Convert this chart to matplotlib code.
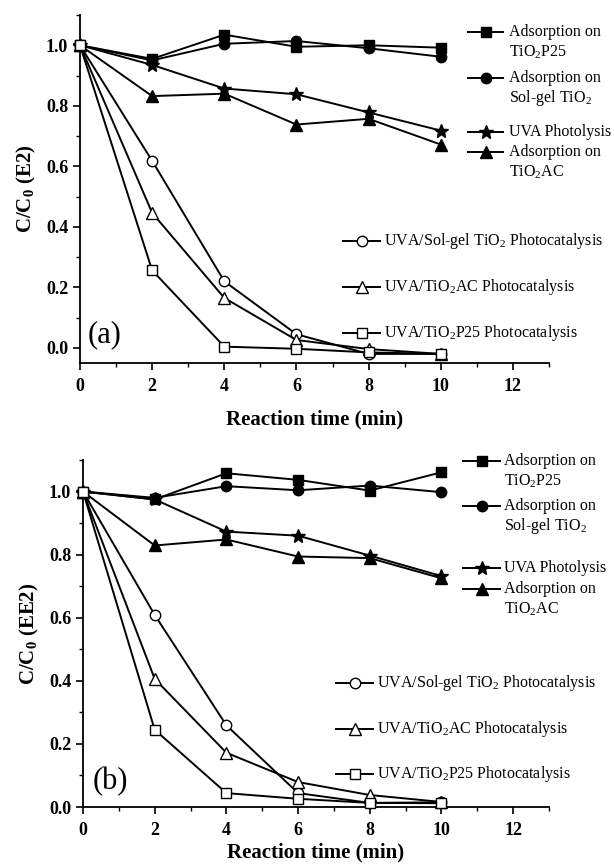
import matplotlib
matplotlib.use("Agg")
import matplotlib.pyplot as plt
from matplotlib.lines import Line2D
from matplotlib.ticker import MultipleLocator

plt.rcParams['font.family'] = 'Liberation Serif'
plt.rcParams['mathtext.fontset'] = 'custom'
plt.rcParams['mathtext.rm'] = 'Liberation Serif'
plt.rcParams['mathtext.it'] = 'Liberation Serif:italic'
plt.rcParams['mathtext.bf'] = 'Liberation Serif:bold'

# ---- data ----
time = [0, 2, 4, 6, 8, 10]

# panel (a) E2
a_ads_p25 = [1.0, 0.955, 1.035, 0.995, 1.0, 0.992]
a_ads_sg = [1.0, 0.95, 1.005, 1.014, 0.99, 0.962]
a_photolysis = [1.0, 0.935, 0.857, 0.838, 0.778, 0.718]
a_ads_ac = [1.0, 0.832, 0.84, 0.738, 0.757, 0.672]
a_uva_sg = [1.0, 0.618, 0.22, 0.045, -0.02, -0.02]
a_uva_ac = [1.0, 0.446, 0.165, 0.026, -0.004, -0.02]
a_uva_p25 = [1.0, 0.256, 0.004, -0.003, -0.015, -0.02]

# panel (b) EE2
b_ads_p25 = [1.0, 0.975, 1.058, 1.037, 1.003, 1.061]
b_ads_sg = [1.0, 0.98, 1.017, 1.004, 1.019, 0.998]
b_photolysis = [1.0, 0.975, 0.873, 0.86, 0.797, 0.732]
b_ads_ac = [1.0, 0.829, 0.848, 0.794, 0.789, 0.725]
b_uva_sg = [1.0, 0.609, 0.259, 0.044, 0.013, 0.015]
b_uva_ac = [1.0, 0.406, 0.172, 0.079, 0.038, 0.016]
b_uva_p25 = [1.0, 0.245, 0.044, 0.026, 0.013, 0.012]

W, H = 614, 864
fig = plt.figure(figsize=(W / 100, H / 100), dpi=100)

styles = [  # marker, filled
    ('s', True), ('o', True), ('*', True), ('^', True),
    ('o', False), ('^', False), ('s', False)]
msizes = {'s': 7, 'o': 7.5, '*': 10, '^': 8}


def draw_series(ax, ys, mk, filled):
    ax.plot(time, ys, color='black', lw=1.4, marker=mk, ms=msizes[mk],
            mfc='black' if filled else 'white', mec='black', mew=1.0,
            clip_on=False, zorder=3)


def legend_entry(x0, x1, y, mk, filled, lines, tx):
    fig.add_artist(Line2D([x0 / W, x1 / W], [1 - y / H] * 2, color='black',
                          lw=1.4, transform=fig.transFigure))
    fig.add_artist(Line2D([(x0 + x1) / 2 / W], [1 - y / H], color='black',
                          marker=mk, ms=msizes[mk],
                          mfc='black' if filled else 'white', mec='black',
                          mew=1.0, transform=fig.transFigure))
    for i, t in enumerate(lines):
        fig.text(tx / W, 1 - (y + 20 * i) / H, t, fontsize=11.5, va='center',
                 ha='left')


def setup_axes(ax, ymin, ylab, tag, xlpad, tagpos):
    ax.set_xlim(0, 13)
    ax.set_ylim(ymin, 1.1)
    ax.spines['top'].set_visible(False)
    ax.spines['right'].set_visible(False)
    ax.spines['left'].set_linewidth(1.3)
    ax.spines['bottom'].set_linewidth(1.3)
    ax.xaxis.set_minor_locator(MultipleLocator(1))
    ax.yaxis.set_minor_locator(MultipleLocator(0.1))
    ax.set_xticks([0, 2, 4, 6, 8, 10, 12])
    ax.set_xticklabels(['0', '2', '4', '6', '8', '10', '12'],
                       fontweight='bold')
    ax.set_yticks([0.0, 0.2, 0.4, 0.6, 0.8, 1.0])
    ax.set_yticklabels(['0.0', '0.2', '0.4', '0.6', '0.8', '1.0'],
                       fontweight='bold')
    ax.tick_params(which='major', direction='out', length=5, width=1.2,
                   labelsize=13)
    ax.tick_params(axis='x', which='major', pad=6)
    ax.tick_params(which='minor', direction='out', length=3, width=1.0)
    ax.set_xlabel('Reaction time (min)', fontsize=15, fontweight='bold',
                  labelpad=xlpad)
    ax.set_ylabel(ylab, fontsize=15, fontweight='bold', labelpad=6)
    ax.text(tagpos[0], tagpos[1], tag, transform=ax.transAxes,
            fontsize=22, ha='left', va='bottom')


# ---- panel (a) ----
ax1 = fig.add_axes([80 / W, 1 - 363 / H, 469 / W, 348 / H])
for ys, (mk, f) in zip([a_ads_p25, a_ads_sg, a_photolysis, a_ads_ac,
                        a_uva_sg, a_uva_ac, a_uva_p25], styles):
    draw_series(ax1, ys, mk, f)
setup_axes(ax1, -0.05, r'C/C$_\mathbf{0}$ (E2)', '(a)', 10, (0.016, 0.04))

# ---- panel (b) ----
ax2 = fig.add_axes([83 / W, 1 - 807 / H, 466 / W, 347 / H])
for ys, (mk, f) in zip([b_ads_p25, b_ads_sg, b_photolysis, b_ads_ac,
                        b_uva_sg, b_uva_ac, b_uva_p25], styles):
    draw_series(ax2, ys, mk, f)
setup_axes(ax2, 0.0, r'C/C$_\mathbf{0}$ (EE2)', '(b)', 2, (0.02, 0.03))

labels_top = [['Adsorption on', r'TiO$_2$P25'],
              ['Adsorption on', r'Sol-gel TiO$_2$'],
              ['UVA Photolysis'],
              ['Adsorption on', r'TiO$_2$AC']]
labels_bot = [[r'UVA/Sol-gel TiO$_2$ Photocatalysis'],
              [r'UVA/TiO$_2$AC Photocatalysis'],
              [r'UVA/TiO$_2$P25 Photocatalysis']]

for y, (mk, f), lab in zip([32, 78, 132, 152], styles[:4], labels_top):
    legend_entry(468, 503, y, mk, f, lab, 509)
for y, (mk, f), lab in zip([241, 287, 333], styles[4:], labels_bot):
    legend_entry(343, 380, y, mk, f, lab, 384)
for y, (mk, f), lab in zip([461, 506, 568, 589], styles[:4], labels_top):
    legend_entry(463, 500, y, mk, f, lab, 504)
for y, (mk, f), lab in zip([683, 729, 774], styles[4:], labels_bot):
    legend_entry(336, 373, y, mk, f, lab, 377)

fig.savefig('out.png', dpi=100)
